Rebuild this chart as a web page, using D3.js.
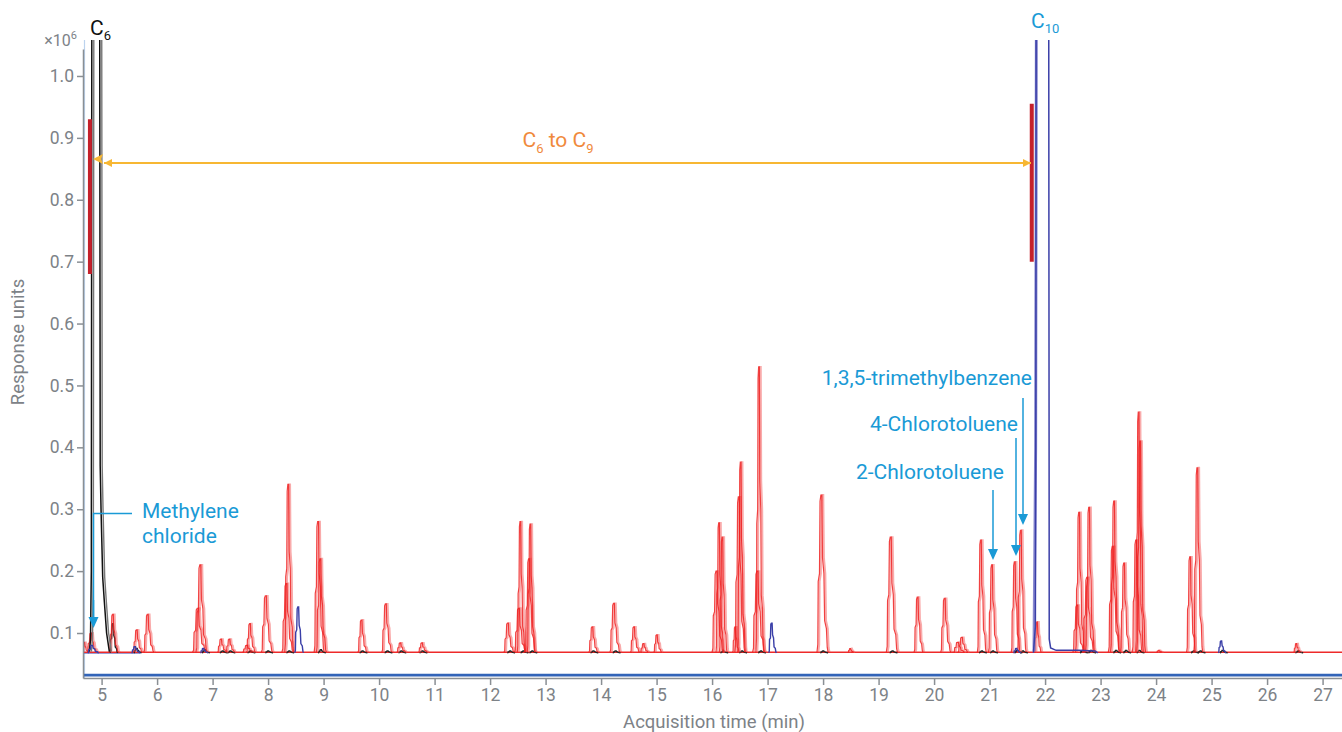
<!DOCTYPE html>
<head>
    <script src="https://d3js.org/d3.v7.min.js"></script>
    <style>
        body { margin: 0; background: #fff; }
        text { font-family: Roboto, "Noto Sans", sans-serif; }
    </style>
</head>
<body>
    <svg></svg>
</body>

<script>
    // Red trace peaks: retention time (min), apex (x10^6), half width (min)
    var redTimes   = [4.70, 4.83, 5.22, 5.65, 5.85, 6.76, 6.80, 7.17, 7.32, 7.64, 7.69, 7.98, 8.35, 8.38, 8.92, 8.96,
                      9.70, 10.14, 10.40, 10.79, 12.34, 12.54, 12.56, 12.72, 12.74, 13.86, 14.25, 14.61, 14.78, 15.02,
                      16.10, 16.14, 16.20, 16.43, 16.50, 16.53, 16.84, 16.86, 17.99, 18.50, 19.24, 19.72, 20.21,
                      20.45, 20.52, 20.86, 21.06, 21.47, 21.58, 21.87, 22.60, 22.63, 22.78, 22.81, 23.24, 23.26,
                      23.44, 23.66, 23.70, 23.73, 24.06, 24.63, 24.76, 26.54];
    var redHeights = [0.085, 0.100, 0.130, 0.105, 0.130, 0.140, 0.210, 0.090, 0.090, 0.080, 0.115, 0.160, 0.180, 0.340, 0.280, 0.220,
                      0.121, 0.147, 0.084, 0.084, 0.116, 0.140, 0.280, 0.220, 0.276, 0.110, 0.148, 0.110, 0.083, 0.097,
                      0.200, 0.278, 0.255, 0.110, 0.320, 0.376, 0.200, 0.530, 0.323, 0.075, 0.255, 0.158, 0.156,
                      0.085, 0.093, 0.250, 0.210, 0.215, 0.266, 0.118, 0.145, 0.295, 0.190, 0.303, 0.240, 0.313,
                      0.213, 0.250, 0.457, 0.410, 0.072, 0.223, 0.367, 0.083];
    var redWidths  = [0.06, 0.09, 0.08, 0.08, 0.09, 0.12, 0.10, 0.08, 0.08, 0.10, 0.08, 0.10, 0.10, 0.08, 0.09, 0.09,
                      0.08, 0.09, 0.08, 0.08, 0.09, 0.10, 0.07, 0.09, 0.07, 0.08, 0.09, 0.08, 0.07, 0.07,
                      0.10, 0.07, 0.07, 0.06, 0.09, 0.07, 0.11, 0.07, 0.10, 0.05, 0.10, 0.08, 0.09,
                      0.10, 0.09, 0.08, 0.08, 0.08, 0.08, 0.06, 0.10, 0.08, 0.10, 0.08, 0.10, 0.08,
                      0.08, 0.09, 0.07, 0.08, 0.05, 0.08, 0.08, 0.06];

    // Blue trace peaks
    var blueTimes   = [4.85, 5.62, 6.85, 8.56, 17.09, 21.50, 25.19];
    var blueHeights = [0.080, 0.078, 0.075, 0.142, 0.116, 0.075, 0.087];
    var blueWidths  = [0.10, 0.08, 0.07, 0.08, 0.07, 0.07, 0.07];

    // C10 peak (blue), read point by point
    var c10Times  = [21.79, 21.825, 21.834, 21.84, 22.065, 22.075, 22.10, 22.20, 22.60, 22.90, 22.95];
    var c10Values = [0.068, 0.110, 0.500, 1.200, 1.200, 0.090, 0.076, 0.072, 0.072, 0.071, 0.068];
    var lavTimes  = [21.80, 21.830, 21.840, 21.845];
    var lavValues = [0.070, 0.400, 0.900, 1.200];

    // C6 peak (black), read point by point
    var c6Times  = [4.78, 4.80, 4.815, 4.825, 4.965, 4.975, 4.99, 5.02, 5.05, 5.09, 5.14];
    var c6Values = [0.070, 0.090, 0.200, 1.200, 1.200, 0.370, 0.300, 0.190, 0.150, 0.100, 0.070];

    // Black trace small peaks
    var blackTimes   = [5.22, 5.65, 6.88, 7.20, 7.34, 7.70, 8.02, 8.40, 8.97, 9.72, 10.17, 10.42, 10.80, 12.38, 12.62,
                        12.78, 13.88, 14.28, 16.22, 16.56, 16.90, 18.02, 19.27, 20.88, 21.08, 21.52, 21.62, 22.70,
                        22.85, 23.30, 23.48, 23.72, 24.70, 24.82, 25.22, 26.58];
    var blackHeights = [0.115, 0.075, 0.073, 0.071, 0.071, 0.071, 0.071, 0.071, 0.073, 0.071, 0.071, 0.071, 0.071, 0.071, 0.071,
                        0.071, 0.071, 0.071, 0.071, 0.071, 0.071, 0.071, 0.071, 0.071, 0.071, 0.072, 0.071, 0.072,
                        0.072, 0.072, 0.072, 0.072, 0.071, 0.071, 0.072, 0.071];

    var yTicks = [0.1, 0.2, 0.3, 0.4, 0.5, 0.6, 0.7, 0.8, 0.9, 1.0];
    var xTicks = d3.range(5, 28);

    var redBase = 0.069, blueBase = 0.068, floorLevel = 0.032;

    // Variables
    var width = 1342;
    var height = 732;
    var grey = '#7d8287';
    var cyan = '#1a9ad6';

    var svg = d3.select('svg')
        .attr('width', width)
        .attr('height', height);

    var x = d3.scaleLinear().domain([4.665, 27.35]).range([83, 1342]);
    var y = d3.scaleLinear().domain([0.0273, 1.0436]).range([678, 49]);

    var line = d3.line()
        .x(function (d) { return x(d[0]); })
        .y(function (d) { return y(d[1]); });

    // stepped, slightly tailing peak outline
    var shape = [[-1, 0], [-0.85, 0.05], [-0.78, 0.45], [-0.55, 0.5], [-0.45, 0.96], [-0.3, 1], [-0.12, 1],
                 [0.0, 0.6], [0.25, 0.5], [0.38, 0.2], [0.7, 0.15], [0.85, 0.03], [1, 0]];
    function peak(t, h, w, b) {
        return shape.map(function (s) { return [t + s[0] * w, b + s[1] * (h - b)]; });
    }

    svg.append('clipPath').attr('id', 'plot')
        .append('rect').attr('x', 83).attr('y', 40).attr('width', width - 83).attr('height', 638);

    var g = svg.append('g').attr('clip-path', 'url(#plot)');

    // bottom flat trace + left light edge
    g.append('line').attr('x1', 84.5).attr('x2', 84.5).attr('y1', 37).attr('y2', 678)
        .style('stroke', '#bcd3ee').style('stroke-width', 1.2);
    g.append('path').attr('d', line([[4.675, floorLevel], [27.35, floorLevel]]))
        .style('stroke', '#3264b8').style('stroke-width', 2.6).style('fill', 'none');

    // blue baseline
    g.append('path').attr('d', line([[4.665, blueBase], [5.7, blueBase]]))
        .style('stroke', '#3a3fa8').style('stroke-width', 1.5).style('fill', 'none');

    // red baseline
    g.append('path').attr('d', line([[4.665, redBase], [27.35, redBase]]))
        .style('stroke', '#ee2a2a').style('stroke-width', 1.6).style('fill', 'none');

    // black small peaks
    var blackPeaks = blackTimes.map(function (t, i) { return peak(t, blackHeights[i], 0.07, redBase - 0.001); });
    g.selectAll('path.black').data(blackPeaks).enter().append('path')
        .attr('class', 'black').attr('d', line)
        .style('stroke', '#222').style('stroke-width', 1.4).style('fill', 'none');

    // red peaks, drawn twice (offset copy) for the doubled look
    var redPeaks = redTimes.map(function (t, i) { return peak(t, redHeights[i], redWidths[i], redBase); });
    g.selectAll('path.red2').data(redPeaks).enter().append('path')
        .attr('class', 'red2').attr('d', line).attr('transform', 'translate(1.5,0)')
        .style('stroke', '#f45858').style('stroke-opacity', 0.5).style('stroke-width', 1.8).style('fill', 'none');
    g.selectAll('path.red').data(redPeaks).enter().append('path')
        .attr('class', 'red').attr('d', line)
        .style('stroke', '#ee2020').style('stroke-opacity', 0.85).style('stroke-width', 1.2).style('fill', 'none');

    // C6 peak
    var c6 = c6Times.map(function (t, i) { return [t, c6Values[i]]; });
    g.append('path').attr('d', line(c6)).attr('transform', 'translate(2,0)')
        .style('stroke', '#777').style('stroke-width', 1.4).style('fill', 'none');
    g.append('path').attr('d', line(c6))
        .style('stroke', '#111').style('stroke-width', 1.5).style('fill', 'none');

    // blue peaks
    var bluePeaks = blueTimes.map(function (t, i) { return peak(t, blueHeights[i], blueWidths[i], blueBase); });
    g.selectAll('path.blue').data(bluePeaks).enter().append('path')
        .attr('class', 'blue').attr('d', line)
        .style('stroke', '#3a3fa8').style('stroke-width', 1.4).style('fill', 'none');

    // C10 peak
    g.append('path').attr('d', line(lavTimes.map(function (t, i) { return [t, lavValues[i]]; })))
        .style('stroke', '#8a8ad0').style('stroke-width', 3).style('fill', 'none');
    g.append('path').attr('d', line(c10Times.map(function (t, i) { return [t, c10Values[i]]; })))
        .style('stroke', '#3a3fa8').style('stroke-width', 1.5).style('fill', 'none');

    // red markers
    [[4.79, 0.93, 0.68], [21.76, 0.955, 0.70]].forEach(function (m) {
        svg.append('line').attr('x1', x(m[0])).attr('x2', x(m[0])).attr('y1', y(m[1])).attr('y2', y(m[2]))
            .style('stroke', '#c4202b').style('stroke-width', 4);
    });

    // Axes
    var yAxis = svg.append('g').attr('transform', 'translate(83,0)')
        .call(d3.axisLeft(y).tickValues(yTicks).tickFormat(d3.format('.1f')).tickSize(6).tickSizeOuter(0));
    var xAxis = svg.append('g').attr('transform', 'translate(0,678)')
        .call(d3.axisBottom(x).tickValues(xTicks).tickSize(7).tickSizeOuter(0));
    [yAxis, xAxis].forEach(function (a) {
        a.selectAll('path, line').style('stroke', '#8a8f94').style('stroke-width', 1.5);
        a.selectAll('text').style('fill', grey).style('font-size', '17.5px')
            .style('font-family', 'Roboto, sans-serif');
    });
    xAxis.selectAll('text').attr('y', 11);

    svg.append('text').attr('transform', 'translate(24,342) rotate(-90)')
        .attr('text-anchor', 'middle').style('fill', grey).style('font-size', '18.5px')
        .text('Response units');
    svg.append('text').attr('x', 714).attr('y', 728)
        .attr('text-anchor', 'middle').style('fill', grey).style('font-size', '18.5px')
        .text('Acquisition time (min)');

    var e6 = svg.append('text').attr('x', 77).attr('y', 46).attr('text-anchor', 'end')
        .style('fill', grey).style('font-size', '16px');
    e6.append('tspan').text('×10');
    e6.append('tspan').attr('dy', -7).style('font-size', '11px').text('6');

    // Peak labels
    function cLabel(px, py, sub, color) {
        var t = svg.append('text').attr('x', px).attr('y', py).style('fill', color).style('font-size', '21px');
        t.append('tspan').text('C');
        t.append('tspan').attr('dy', 5).style('font-size', '13px').text(sub);
    }
    cLabel(90, 35, '6', '#111');
    cLabel(1031, 28, '10', cyan);

    // C6 to C9 arrow
    var orange = '#f7b733';
    svg.append('defs').selectAll('marker').data(['s', 'e']).enter().append('marker')
        .attr('id', function (d) { return 'ar' + d; })
        .attr('viewBox', '0 0 10 10').attr('refX', 10).attr('refY', 5)
        .attr('markerWidth', 5).attr('markerHeight', 4).attr('orient', 'auto-start-reverse')
        .attr('markerUnits', 'strokeWidth')
        .append('path').attr('d', 'M0,0L10,5L0,10Z').style('fill', orange);
    svg.append('line').attr('x1', 104).attr('x2', 1031).attr('y1', 163).attr('y2', 163)
        .style('stroke', orange).style('stroke-width', 2)
        .attr('marker-start', 'url(#ars)').attr('marker-end', 'url(#are)');
    svg.append('path').attr('d', 'M93,159L103,154L101,159L103,164Z').style('fill', orange);

    var cc = svg.append('text').attr('x', 558).attr('y', 147).attr('text-anchor', 'middle')
        .style('fill', '#f08a3c').style('font-size', '21px');
    cc.append('tspan').text('C');
    cc.append('tspan').attr('dy', 6).style('font-size', '13px').text('6');
    cc.append('tspan').attr('dy', -6).text(' to C');
    cc.append('tspan').attr('dy', 6).style('font-size', '13px').text('9');

    // compound annotations
    function arrowDown(px, y1, y2) {
        svg.append('line').attr('x1', px).attr('x2', px).attr('y1', y1).attr('y2', y2 - 8)
            .style('stroke', cyan).style('stroke-width', 1.5);
        svg.append('path').attr('d', 'M' + (px - 5) + ',' + (y2 - 11) + 'L' + (px + 5) + ',' + (y2 - 11) + 'L' + px + ',' + y2 + 'Z')
            .style('fill', cyan);
    }
    svg.append('path').attr('d', 'M132,513.5H93.5V620').style('stroke', cyan).style('stroke-width', 1.5).style('fill', 'none');
    arrowDown(93.5, 600, 628);
    svg.append('text').attr('x', 142).attr('y', 518).style('fill', cyan).style('font-size', '21px').text('Methylene');
    svg.append('text').attr('x', 142).attr('y', 543).style('fill', cyan).style('font-size', '21px').text('chloride');

    arrowDown(993, 490, 560);
    arrowDown(1016, 438, 556);
    arrowDown(1023, 398, 525);
    svg.append('text').attr('x', 1032).attr('y', 385).attr('text-anchor', 'end').style('fill', cyan).style('font-size', '21px').text('1,3,5-trimethylbenzene');
    svg.append('text').attr('x', 1018).attr('y', 431).attr('text-anchor', 'end').style('fill', cyan).style('font-size', '21px').text('4-Chlorotoluene');
    svg.append('text').attr('x', 1004).attr('y', 479).attr('text-anchor', 'end').style('fill', cyan).style('font-size', '21px').text('2-Chlorotoluene');
</script>
